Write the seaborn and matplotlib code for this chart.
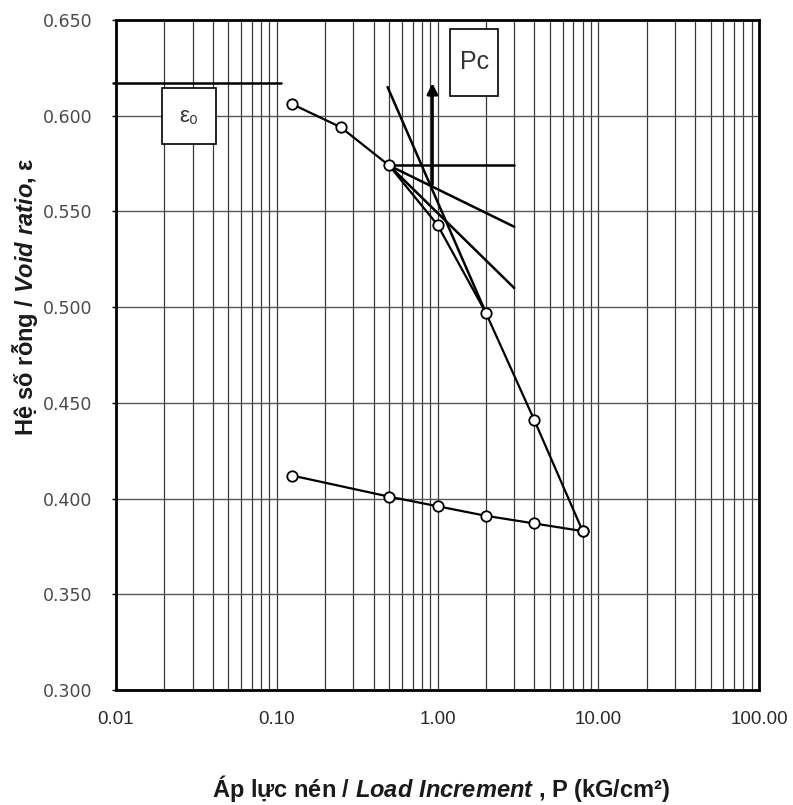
import numpy as np
import pandas as pd
import matplotlib
matplotlib.use("Agg")
import matplotlib.pyplot as plt
import seaborn as sns
from matplotlib import font_manager
from matplotlib.patches import Rectangle
from matplotlib.ticker import FixedLocator, LogLocator, NullFormatter, FixedFormatter

# ---------------- data ----------------
load_p = [0.125, 0.25, 0.5, 1, 2, 4, 8]
void_load = [0.606, 0.594, 0.574, 0.543, 0.497, 0.441, 0.383]
unload_p = [8, 4, 2, 1, 0.5, 0.125]
void_unload = [0.383, 0.387, 0.391, 0.396, 0.401, 0.412]

e0_line_p = [0.0096, 0.107]
e0_line_e = [0.617, 0.617]
pc_arrow_p = [0.93, 0.93]
pc_arrow_e = [0.564, 0.617]
horiz_p = [0.5, 3.0]
horiz_e = [0.574, 0.574]
tangent_p = [0.5, 3.0]
tangent_e = [0.574, 0.542]
bisector_p = [0.5, 3.0]
bisector_e = [0.574, 0.510]
virgin_p = [0.489, 2.0]
virgin_e = [0.615, 0.497]

e0_box_p = [0.0193, 0.0421]
e0_box_e = [0.5852, 0.6145]
pc_box_p = [1.204, 2.39]
pc_box_e = [0.6103, 0.6453]

x_ticks = [0.01, 0.1, 1, 10, 100]
x_ticklabels = ["0.01", "0.10", "1.00", "10.00", "100.00"]
y_ticks = [0.300, 0.350, 0.400, 0.450, 0.500, 0.550, 0.600, 0.650]
y_ticklabels = ["0.300", "0.350", "0.400", "0.450", "0.500", "0.550", "0.600", "0.650"]

# ---------------- style ----------------
sns.set_theme(style="white")
names = {f.name for f in font_manager.fontManager.ttflist}
narrow = "Liberation Sans Narrow" if "Liberation Sans Narrow" in names else "Liberation Sans"
plt.rcParams["font.family"] = ["DejaVu Sans"]
plt.rcParams["mathtext.fontset"] = "custom"
plt.rcParams["mathtext.it"] = f"{narrow}:italic:bold"
plt.rcParams["mathtext.rm"] = f"{narrow}:bold"
plt.rcParams["mathtext.bf"] = f"{narrow}:bold"

W, H = 793, 805
fig = plt.figure(figsize=(W / 100, H / 100), dpi=100)
fig.patch.set_facecolor("white")
L, R, T, B = 116, 759, 20, 690
ax = fig.add_axes([L / W, 1 - B / H, (R - L) / W, (B - T) / H])
ax.set_facecolor("white")

ax.set_xscale("log")
ax.set_xlim(0.01, 100)
ax.set_ylim(0.300, 0.650)

# grid
ax.xaxis.set_major_locator(FixedLocator(x_ticks))
ax.xaxis.set_major_formatter(FixedFormatter(x_ticklabels))
ax.xaxis.set_minor_locator(LogLocator(base=10, subs=np.arange(2, 10)))
ax.xaxis.set_minor_formatter(NullFormatter())
ax.yaxis.set_major_locator(FixedLocator(y_ticks))
ax.yaxis.set_major_formatter(FixedFormatter(y_ticklabels))
ax.grid(which="both", axis="x", color="#3a3a3a", linewidth=0.9)
ax.grid(which="major", axis="y", color="#55575f", linewidth=1.0)
ax.set_axisbelow(True)

for s in ax.spines.values():
    s.set_color("black")
    s.set_linewidth(2.0)

ax.tick_params(axis="x", which="both", length=0, pad=15, labelsize=13.5, labelcolor="#2a2a2a")
ax.tick_params(axis="y", which="major", length=3, width=1, color="black", direction="out",
               left=True, pad=14, labelsize=12.5, labelcolor="#4a4a4a")
for lab in ax.get_xticklabels():
    lab.set_family(narrow)

# construction lines
lw = 1.8
ax.plot(e0_line_p, e0_line_e, color="black", lw=lw, clip_on=False, zorder=3)
ax.plot(horiz_p, horiz_e, color="black", lw=lw, zorder=3)
ax.plot(tangent_p, tangent_e, color="black", lw=lw, zorder=3)
ax.plot(bisector_p, bisector_e, color="black", lw=lw, zorder=3)
ax.plot(virgin_p, virgin_e, color="black", lw=lw, zorder=3)
ax.annotate("", xy=(pc_arrow_p[1], pc_arrow_e[1]), xytext=(pc_arrow_p[0], pc_arrow_e[0]),
            arrowprops=dict(arrowstyle="-|>", color="black", lw=2.0, mutation_scale=16,
                            shrinkA=0, shrinkB=0), zorder=3)

# data curves
df_load = pd.DataFrame({"P": load_p, "e": void_load})
df_unload = pd.DataFrame({"P": unload_p, "e": void_unload})
for d in (df_load, df_unload):
    sns.lineplot(data=d, x="P", y="e", sort=False, color="black", linewidth=1.6,
                 marker="o", markersize=7.5, markerfacecolor="white",
                 markeredgecolor="black", markeredgewidth=1.3, ax=ax, zorder=4)

# boxes
for bp, be, txt, fs in ((e0_box_p, e0_box_e, "ε₀", 16), (pc_box_p, pc_box_e, "Pc", 18)):
    ax.add_patch(Rectangle((bp[0], be[0]), bp[1] - bp[0], be[1] - be[0],
                           facecolor="white", edgecolor="black", lw=1.2, zorder=5))
    cx = 10 ** ((np.log10(bp[0]) + np.log10(bp[1])) / 2)
    cy = (be[0] + be[1]) / 2
    ax.text(cx, cy, txt, ha="center", va="center", fontsize=fs, color="#333333",
            family=["Liberation Sans", "DejaVu Sans"], zorder=6)

# axis labels
ax.set_xlabel(r"Áp lực nén / $\mathit{Load\ Increment}$ , P (kG/cm²$\mathit{)}$",
              fontsize=17, fontweight="bold", family=narrow, color="#1a1a1a")
ax.set_ylabel(r"Hệ số rỗng / $\mathit{Void\ ratio}$, ε",
              fontsize=17, fontweight="bold", family=narrow, color="#1a1a1a")
ax.xaxis.label.set_va("center")
ax.yaxis.label.set_va("center")
ax.xaxis.set_label_coords((441 - L) / (R - L), (B - 789) / (B - T))
ax.yaxis.set_label_coords((25 - L) / (R - L), (B - 297) / (B - T))

fig.savefig("out.png", dpi=100, facecolor="white")
